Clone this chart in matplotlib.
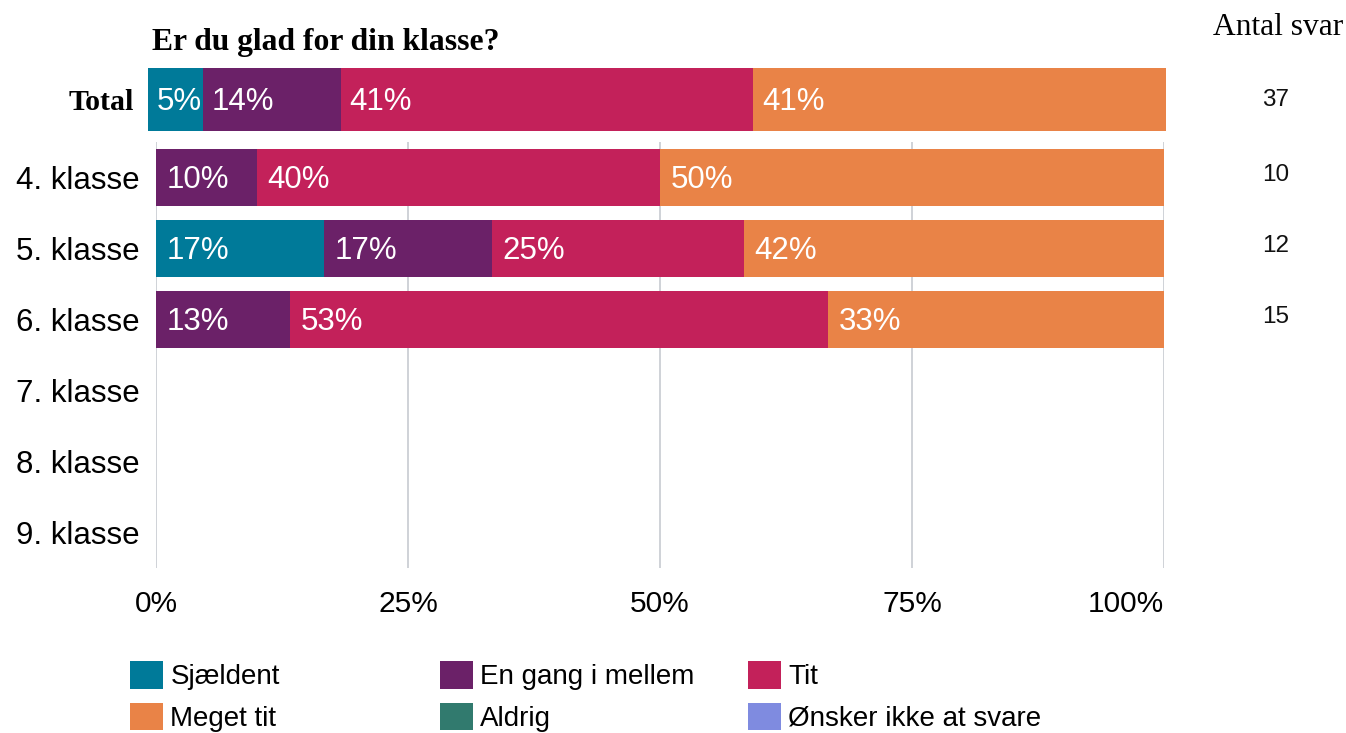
import matplotlib
matplotlib.use("Agg")
import matplotlib.pyplot as plt
from matplotlib.patches import Patch
from matplotlib.transforms import blended_transform_factory

# Survey data: number of answers per class level and response category
groups = ["4. klasse", "5. klasse", "6. klasse", "7. klasse", "8. klasse", "9. klasse"]
categories = ["Sjældent", "En gang i mellem", "Tit", "Meget tit", "Aldrig", "Ønsker ikke at svare"]
sjaeldent = [0, 2, 0, 0, 0, 0]
en_gang = [1, 2, 2, 0, 0, 0]
tit = [4, 3, 8, 0, 0, 0]
meget_tit = [5, 5, 5, 0, 0, 0]
aldrig = [0, 0, 0, 0, 0, 0]
onsker = [0, 0, 0, 0, 0, 0]
xticks = [0, 25, 50, 75, 100]
xtick_labels = ["0%", "25%", "50%", "75%", "100%"]
title = "Er du glad for din klasse?"

colors = ["#007a99", "#6b2168", "#c3215a", "#e98347", "#317a6e", "#7f8be0"]
series = [sjaeldent, en_gang, tit, meget_tit, aldrig, onsker]

n_per_group = [sum(s[i] for s in series) for i in range(len(groups))]
totals = [sum(s) for s in series]
n_total = sum(totals)

SANS = "Liberation Sans"
SERIF = "Liberation Serif"
W, H = 1346, 733


def box(l, t, r, b):
    return [l / W, 1 - b / H, (r - l) / W, (b - t) / H]


fig = plt.figure(figsize=(W / 100, H / 100), dpi=100)
ax = fig.add_axes(box(156, 142, 1164, 568))
ax_tot = fig.add_axes(box(148, 68, 1166, 131))

# Class-level bars
left = [0.0] * len(groups)
for vals, col in zip(series, colors):
    pct = [v / n * 100 if n else 0 for v, n in zip(vals, n_per_group)]
    ax.barh(range(len(groups)), pct, left=left, height=0.8, color=col)
    for i, p in enumerate(pct):
        if p > 0:
            ax.annotate(f"{p:.0f}%", xy=(left[i], i), xytext=(7.5, -1.5),
                        textcoords="offset points", ha="left", va="center",
                        color="white", fontsize=22.5, family=SANS)
    left = [a + b for a, b in zip(left, pct)]

ax.set_xlim(0, 100)
ax.set_ylim(len(groups) - 0.5, -0.5)
ax.set_yticks(range(len(groups)))
ax.set_yticklabels(groups, fontsize=22.5, family=SANS)
ax.set_xticks(xticks)
ax.set_xticklabels(xtick_labels, fontsize=21.5, family=SANS)
ax.get_xticklabels()[-1].set_horizontalalignment("right")
ax.tick_params(axis="y", length=0, pad=12)
ax.tick_params(axis="x", length=0, pad=16)
ax.grid(axis="x", color="#cbcfd4", linewidth=1.3)
ax.set_axisbelow(True)
for sp in ax.spines.values():
    sp.set_visible(False)

# Total bar
lt = 0.0
for vals, col in zip(totals, colors):
    p = vals / n_total * 100
    ax_tot.barh([0], [p], left=lt, height=1.0, color=col)
    if p > 0:
        ax_tot.annotate(f"{p:.0f}%", xy=(lt, 0), xytext=(6.5, -1.5),
                        textcoords="offset points", ha="left", va="center",
                        color="white", fontsize=22.5, family=SANS)
    lt += p
ax_tot.set_xlim(0, 100)
ax_tot.set_ylim(-0.5, 0.5)
ax_tot.set_xticks([])
ax_tot.set_yticks([0])
ax_tot.set_yticklabels(["Total"], fontsize=21.5, family=SERIF, fontweight="bold")
ax_tot.tick_params(axis="y", length=0, pad=10)
for sp in ax_tot.spines.values():
    sp.set_visible(False)

# Number of answers column
fig.text(1343 / W, 1 - 35 / H, "Antal svar", ha="right", va="baseline",
         fontsize=22.7, family=SERIF)
tr_tot = blended_transform_factory(fig.transFigure, ax_tot.transData)
ax_tot.text(1276 / W, 0, str(n_total), transform=tr_tot, ha="center",
            va="center", fontsize=17.5, family=SANS, color="#111111")
tr = blended_transform_factory(fig.transFigure, ax.transData)
for i, n in enumerate(n_per_group):
    if n:
        ax.text(1276 / W, i - 0.04, str(n), transform=tr, ha="center",
                va="center", fontsize=17.5, family=SANS, color="#111111")

# Title
fig.text(152 / W, 1 - 50 / H, title, ha="left", va="baseline",
         fontsize=22.8, family=SERIF, fontweight="bold")

# Legend, one column at a time: row 1 holds the first three categories
handles = [Patch(facecolor=c, edgecolor="none") for c in colors]
col_x = [130, 440, 748]
for k, x in enumerate(col_x):
    idx = [k, k + 3]
    fig.legend([handles[j] for j in idx], [categories[j] for j in idx],
               loc="upper left", bbox_to_anchor=(x / W, 1 - 661 / H),
               frameon=False, borderpad=0, borderaxespad=0,
               handlelength=1.2, handleheight=1.15, handletextpad=0.25,
               labelspacing=0.45, prop={"family": SANS, "size": 20})

fig.savefig("out.png", dpi=100)
